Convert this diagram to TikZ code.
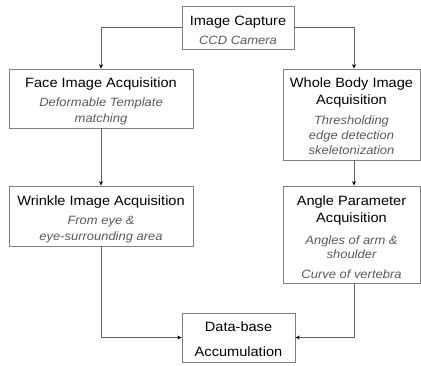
\documentclass[tikz,border=0pt]{standalone}
\usepackage{fontspec}
\setmainfont{Liberation Sans}[FakeStretch=1.08]
\usetikzlibrary{arrows.meta}
\definecolor{boxgray}{HTML}{808080}
\definecolor{subgray}{HTML}{5A5A5A}
\definecolor{linegray}{HTML}{606060}
\tikzset{
  box/.style={draw=boxgray, line width=0.8pt, fill=white, inner sep=0pt},
  ttl/.style={anchor=base, inner sep=0pt, font=\fontsize{13.5}{16}\selectfont, text=black},
  sub/.style={anchor=base, inner sep=0pt, font=\fontsize{12}{14}\selectfont\itshape, text=subgray},
  conn/.style={draw=linegray, line width=0.8pt, -{Stealth[length=4.5pt,width=4pt,color=black]}}
}
\begin{document}
\begin{tikzpicture}[x=1pt,y=-1pt]
\useasboundingbox (0,0) rectangle (421,365);
% boxes
\node[box, minimum width=112pt, minimum height=43pt] (ic) at (238,27.5) {};
\node[box, minimum width=184pt, minimum height=59pt] (face) at (101,98.5) {};
\node[box, minimum width=137pt, minimum height=91pt] (whole) at (351.5,114.5) {};
\node[box, minimum width=184pt, minimum height=60pt] (wrinkle) at (101,216) {};
\node[box, minimum width=137pt, minimum height=97pt] (angle) at (351.5,234.5) {};
\node[box, minimum width=113pt, minimum height=49pt] (db) at (238.5,337.5) {};
% texts
\node[ttl] (t1) at (238,25) {Image Capture};
\node[sub] (s1) at (238,44) {CCD Camera};
\node[ttl] (t2) at (101,87) {Face Image Acquisition};
\node[sub] (s2a) at (101,106) {Deformable Template};
\node[sub] (s2b) at (101,122) {matching};
\node[ttl] (t3a) at (351.5,87) {Whole Body Image};
\node[ttl] (t3b) at (351.5,104) {Acquisition};
\node[sub] (s3a) at (351.5,124) {Thresholding};
\node[sub] (s3b) at (351.5,139) {edge detection};
\node[sub] (s3c) at (351.5,154) {skeletonization};
\node[ttl] (t4) at (101,205) {Wrinkle Image Acquisition};
\node[sub] (s4a) at (101,224) {From eye \&};
\node[sub] (s4b) at (101,240) {eye-surrounding area};
\node[ttl] (t5a) at (351.5,205) {Angle Parameter};
\node[ttl] (t5b) at (351.5,222) {Acquisition};
\node[sub] (s5a) at (351.5,244) {Angles of arm \&};
\node[sub] (s5b) at (351.5,258) {shoulder};
\node[sub] (s5c) at (351.5,278) {Curve of vertebra};
\node[ttl] (t6a) at (238.5,331) {Data-base};
\node[ttl] (t6b) at (238.5,356) {Accumulation};
% connectors
\draw[conn] (ic.west) -| (face.north);
\draw[conn] (ic.east) -| ([xshift=2.5pt]whole.north);
\draw[conn] (face.south) -- (wrinkle.north);
\draw[conn] ([xshift=2.5pt]whole.south) -- ([xshift=2.5pt]angle.north);
\draw[conn] (wrinkle.south) |- (db.west);
\draw[conn] ([xshift=2.5pt]angle.south) |- (db.east);
\end{tikzpicture}
\end{document}
